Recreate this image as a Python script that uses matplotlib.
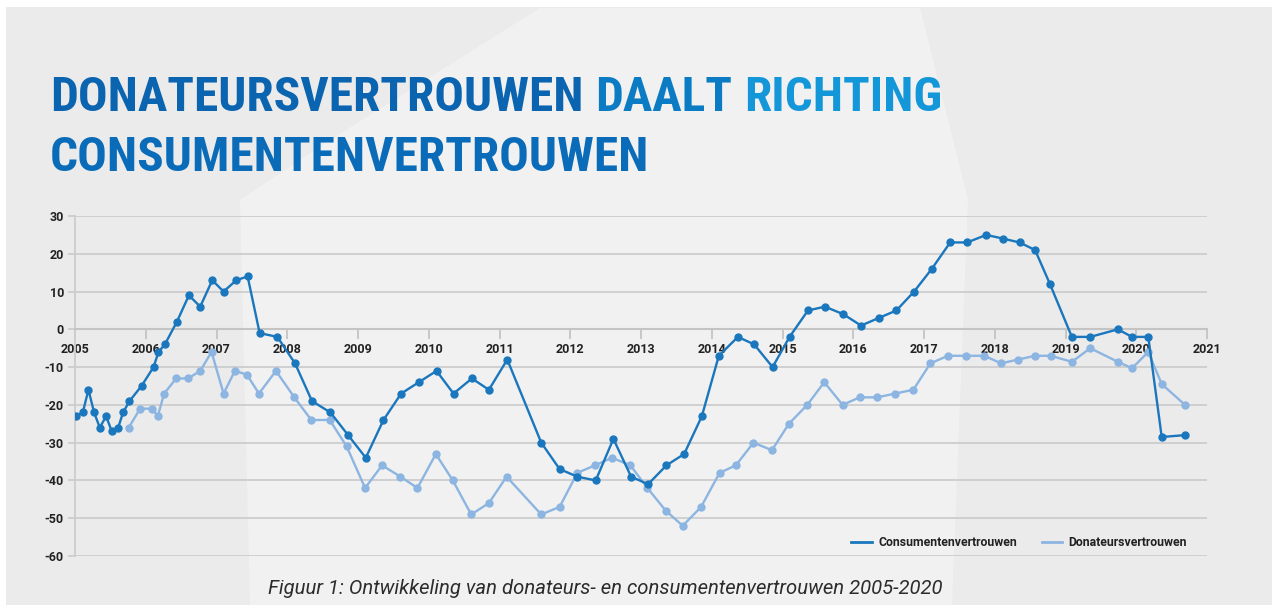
import matplotlib
matplotlib.use("Agg")
import matplotlib.pyplot as plt
from matplotlib import font_manager
from matplotlib.font_manager import FontProperties
from matplotlib.lines import Line2D
from matplotlib.patches import Polygon, Rectangle

# Consumentenvertrouwen (decimal year, value)
cons_years = [2005.01, 2005.11, 2005.19, 2005.27, 2005.35, 2005.44, 2005.52, 2005.61, 2005.68, 2005.77,
              2005.94, 2006.11, 2006.18, 2006.27, 2006.44, 2006.61, 2006.77, 2006.94, 2007.10, 2007.28,
              2007.44, 2007.61, 2007.86, 2008.11, 2008.35, 2008.61, 2008.86, 2009.11, 2009.36, 2009.61,
              2009.86, 2010.11, 2010.35, 2010.61, 2010.85, 2011.11, 2011.59, 2011.85, 2012.10, 2012.36,
              2012.61, 2012.86, 2013.10, 2013.36, 2013.61, 2013.86, 2014.10, 2014.37, 2014.60, 2014.86,
              2015.10, 2015.36, 2015.60, 2015.86, 2016.11, 2016.36, 2016.61, 2016.86, 2017.11, 2017.37,
              2017.61, 2017.88, 2018.12, 2018.35, 2018.57, 2018.78, 2019.09, 2019.35, 2019.74, 2019.94,
              2020.17, 2020.36, 2020.69]
cons_values = [-23, -22, -16, -22, -26, -23, -27, -26, -22, -19,
               -15, -10, -6, -4, 2, 9, 6, 13, 10, 13,
               14, -1, -2, -9, -19, -22, -28, -34, -24, -17,
               -14, -11, -17, -13, -16, -8, -30, -37, -39, -40,
               -29, -39, -41, -36, -33, -23, -7, -2, -4, -10,
               -2, 5, 6, 4, 1, 3, 5, 10, 16, 23,
               23, 25, 24, 23, 21, 12, -2, -2, 0, -2,
               -2, -28.5, -28]

# Donateursvertrouwen (decimal year, value)
don_years = [2005.76, 2005.92, 2006.09, 2006.17, 2006.26, 2006.43, 2006.60, 2006.77, 2006.93, 2007.10,
             2007.26, 2007.43, 2007.60, 2007.84, 2008.10, 2008.34, 2008.60, 2008.84, 2009.10, 2009.34,
             2009.60, 2009.84, 2010.10, 2010.34, 2010.60, 2010.85, 2011.10, 2011.59, 2011.85, 2012.10,
             2012.35, 2012.59, 2012.85, 2013.09, 2013.35, 2013.59, 2013.85, 2014.11, 2014.34, 2014.59,
             2014.85, 2015.09, 2015.35, 2015.59, 2015.85, 2016.09, 2016.34, 2016.59, 2016.85, 2017.09,
             2017.34, 2017.59, 2017.85, 2018.09, 2018.33, 2018.57, 2018.79, 2019.09, 2019.35, 2019.74,
             2019.94, 2020.17, 2020.36, 2020.69]
don_values = [-26, -21, -21, -23, -17, -13, -13, -11, -6, -17,
              -11, -12, -17, -11, -18, -24, -24, -31, -42, -36,
              -39, -42, -33, -40, -49, -46, -39, -49, -47, -38,
              -36, -34, -36, -42, -48, -52, -47, -38, -36, -30,
              -32, -25, -20, -14, -20, -18, -18, -17, -16, -9,
              -7, -7, -7, -9, -8, -7, -7, -8.6, -5, -8.6,
              -10.3, -6, -14.5, -20]

year_ticks = list(range(2005, 2022))
value_ticks = list(range(-60, 31, 10))

title_line1 = [("DONATEURSVERTROUWEN", "#0a64b0"), ("DAALT", "#0b7cc3"), ("RICHTING", "#1497d9")]
title_line2 = [("CONSUMENTENVERTROUWEN", "#0a6cb8")]
caption = "Figuur 1: Ontwikkeling van donateurs- en consumentenvertrouwen 2005-2020"

W, H = 1272, 605
DARK = "#1a77bd"
LIGHT = "#8cb5e1"
GRID = "#cdcdcd"

plt.rcParams["axes.unicode_minus"] = False


def pick_title_font():
    # prefer a condensed bold face, the original uses a narrow DIN
    for name in ["Roboto Condensed", "Liberation Sans Narrow", "Open Sans Condensed"]:
        try:
            font_manager.findfont(name, fallback_to_default=False)
            return FontProperties(family=name, weight="bold")
        except ValueError:
            continue
    fp = FontProperties(family="DejaVu Sans", weight="bold", stretch="condensed")
    if "Condensed" in font_manager.findfont(fp):
        return fp
    return FontProperties(family="Roboto", weight="bold")


title_fp = pick_title_font()
label_font = ["Roboto", "DejaVu Sans"]

fig = plt.figure(figsize=(W / 100, H / 100), dpi=100)
fig.patch.set_facecolor("white")

# paper background
fig.patches.append(Rectangle((6 / W, 0), 1, 1 - 7 / H, transform=fig.transFigure,
                             facecolor="#ebebeb", edgecolor="none", zorder=-10))
shape = [(250, 605), (240, 200), (330, 140), (540, 8), (920, 8), (968, 200), (952, 605)]
fig.patches.append(Polygon([(x / W, 1 - y / H) for x, y in shape], closed=True,
                           transform=fig.transFigure, facecolor="#f1f1f1",
                           edgecolor="none", zorder=-9))

ax = fig.add_axes([75 / W, 49 / H, 1132 / W, 340 / H])
ax.set_facecolor("none")

ax.plot(don_years, don_values, color=LIGHT, lw=1.7, marker="o", ms=5, zorder=3)
ax.plot(cons_years, cons_values, color=DARK, lw=1.7, marker="o", ms=5, zorder=4)

ax.set_xlim(2005, 2021)
ax.set_ylim(-60, 30)
ax.set_xticks(year_ticks)
ax.set_yticks(value_ticks)
ax.yaxis.grid(True, color=GRID, lw=1.3, zorder=0)
ax.set_axisbelow(True)

for side in ["top", "right"]:
    ax.spines[side].set_visible(False)
ax.spines["left"].set_color(GRID)
ax.spines["left"].set_linewidth(1.3)
ax.spines["bottom"].set_position(("data", 0))
ax.spines["bottom"].set_color("#c4c4c4")
ax.spines["bottom"].set_linewidth(1.5)

ax.tick_params(axis="x", direction="out", length=7, width=1.3, color="#c4c4c4", pad=3)
ax.tick_params(axis="y", direction="out", length=5, width=1.3, color=GRID, pad=3)
for lab in ax.get_xticklabels() + ax.get_yticklabels():
    lab.set_family(label_font)
    lab.set_fontweight("bold")
    lab.set_fontsize(9)
    lab.set_color("#222222")

handles = [Line2D([], [], color=DARK, lw=2), Line2D([], [], color=LIGHT, lw=2)]
leg = ax.legend(handles, ["Consumentenvertrouwen", "Donateursvertrouwen"], ncol=2,
                loc="center right", bbox_to_anchor=(0.992, 0.04), frameon=False,
                handlelength=1.7, handletextpad=0.5, columnspacing=2.0,
                prop={"family": label_font, "weight": "bold", "size": 8.8})
for t in leg.get_texts():
    t.set_color("#222222")

fig.text(605 / W, 1 - 588 / H, caption, ha="center", va="center", fontsize=14.6,
         style="italic", color="#2c2c2c", family=label_font)

# title, sized so the first line spans about 892 px
fig.canvas.draw()
renderer = fig.canvas.get_renderer()
probe = fig.text(0, 0, " ".join(w for w, _ in title_line1), fontproperties=title_fp, fontsize=50)
probe_w = probe.get_window_extent(renderer).width
probe.remove()
title_size = 50 * 892 / probe_w


def put_line(words, x_px, base_px):
    x = x_px
    gap = title_size * 100 / 72 * 0.24
    for word, color in words:
        t = fig.text(x / W, 1 - base_px / H, word, fontproperties=title_fp, fontsize=title_size,
                     color=color, ha="left", va="baseline")
        x += t.get_window_extent(renderer).width + gap


put_line(title_line1, 50, 111)
put_line(title_line2, 50, 171)

fig.savefig("out.png", dpi=100, facecolor=fig.get_facecolor())
